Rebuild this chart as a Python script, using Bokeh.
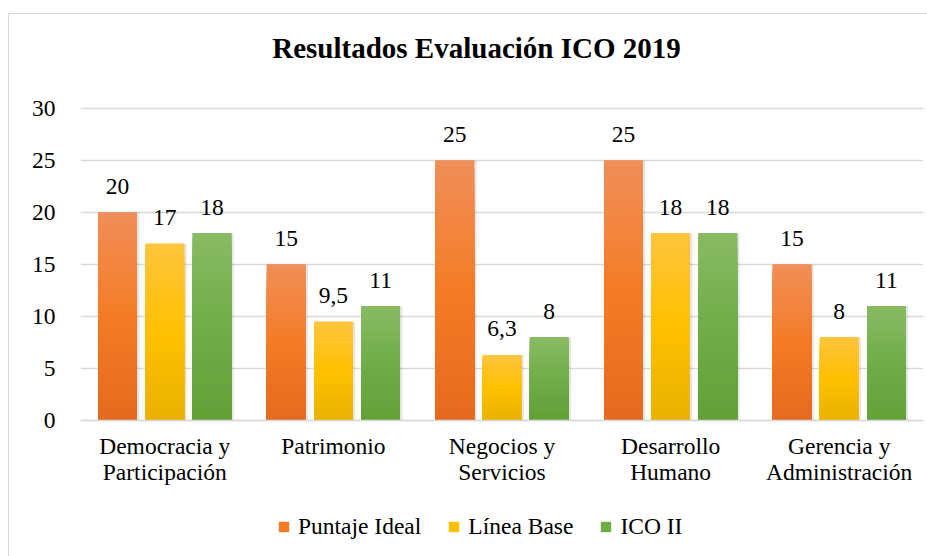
from bokeh.plotting import figure
from bokeh.models import (ColumnDataSource, FactorRange, Range1d, Legend, LegendItem,
                          FixedTicker, Label)
from bokeh.transform import dodge
from bokeh.embed import file_html
from bokeh.resources import INLINE
from bokeh.core.properties import value

# ---- data ----
categories = ["Democracia y\nParticipación", "Patrimonio", "Negocios y\nServicios",
              "Desarrollo\nHumano", "Gerencia y\nAdministración"]
series_names = ["Puntaje Ideal", "Línea Base", "ICO II"]
puntaje_ideal = [20, 15, 25, 25, 15]
linea_base = [17, 9.5, 6.3, 18, 8]
ico_ii = [18, 11, 8, 18, 11]
series_values = [puntaje_ideal, linea_base, ico_ii]
y_ticks = [0, 5, 10, 15, 20, 25, 30]
title_text = "Resultados Evaluación ICO 2019"

# ---- styles / layout ----
FONT = "Liberation Serif"
FS = "23.5px"
offsets = [-0.28, 0.0, 0.28]
bar_w = 0.23
PX_PER_UNIT = 10.4          # vertical scale of the value axis
SPACE_ABOVE = 94            # px between figure top and the 30 gridline
SPACE_BELOW = 137           # px between the 0 line and the figure bottom
grads = [
    [(240, 142, 88), (244, 124, 38), (228, 106, 30)],
    [(255, 197, 62), (255, 192, 0), (233, 178, 0)],
    [(136, 187, 100), (112, 173, 71), (98, 160, 56)],
]
mid_colors = ["#F47C26", "#FFC000", "#70AD47"]


def lerp(a, b, t):
    return tuple(int(round(a[i] + (b[i] - a[i]) * t)) for i in range(3))


def grad_color(stops, t):  # t=0 top, t=1 bottom
    if t <= 0.5:
        c = lerp(stops[0], stops[1], t / 0.5)
    else:
        c = lerp(stops[1], stops[2], (t - 0.5) / 0.5)
    return "#%02x%02x%02x" % c


ymax = max(y_ticks)
y_lo = -SPACE_BELOW / PX_PER_UNIT
y_hi = ymax + SPACE_ABOVE / PX_PER_UNIT
frame_h = int(round((y_hi - y_lo) * PX_PER_UNIT))

p = figure(x_range=FactorRange(*categories, range_padding=0), y_range=Range1d(y_lo, y_hi),
           frame_width=843, frame_height=frame_h, output_backend="svg", toolbar_location=None,
           min_border_left=71, min_border_right=5, min_border_top=0, min_border_bottom=0,
           margin=(13, 0, 0, 8))
p.styles = {"border-left": "1px solid #d9d9d9", "border-top": "1px solid #d9d9d9"}
p.outline_line_color = None

# axes
p.yaxis.ticker = FixedTicker(ticks=y_ticks)
p.yaxis.axis_line_color = None
p.yaxis.major_tick_line_color = None
p.yaxis.minor_tick_line_color = None
p.yaxis.major_label_text_font = FONT
p.yaxis.major_label_text_font_size = FS
p.yaxis.major_label_text_color = "#000000"
p.yaxis.major_label_standoff = 19

p.xaxis.fixed_location = 0
p.xaxis.axis_line_color = "#d9d9d9"
p.xaxis.axis_line_width = 1.5
p.xaxis.major_tick_line_color = None
p.xaxis.minor_tick_line_color = None
p.xaxis.major_label_text_font = FONT
p.xaxis.major_label_text_font_size = FS
p.xaxis.major_label_text_color = "#000000"
p.xaxis.major_label_text_line_height = 1.0
p.xaxis.major_label_standoff = 6

p.xgrid.grid_line_color = None
p.ygrid.grid_line_color = "#d9d9d9"
p.ygrid.grid_line_width = 1.5

N = 40
legend_items = []
for s, (name, vals) in enumerate(zip(series_names, series_values)):
    base_src = ColumnDataSource(dict(cat=categories, val=vals,
                                     lab=[("%g" % v).replace(".", ",") for v in vals]))
    # soft shadow
    p.vbar(x=dodge("cat", offsets[s] + 0.008, range=p.x_range), top="val", bottom=0,
           width=bar_w + 0.012, source=base_src, fill_color="#000000", fill_alpha=0.10,
           line_color=None)
    # solid base bar (used for the legend)
    r = p.vbar(x=dodge("cat", offsets[s], range=p.x_range), top="val", bottom=0,
               width=bar_w, source=base_src, fill_color=mid_colors[s], line_color=None)
    legend_items.append(LegendItem(label=name, renderers=[r]))
    # gradient overlay: nested rectangles from tallest to shortest
    cats, tops, cols = [], [], []
    for i in range(N):
        frac = (N - i) / N
        t = 1 - (N - i - 0.5) / N
        for c, v in zip(categories, vals):
            cats.append(c)
            tops.append(v * frac)
            cols.append(grad_color(grads[s], t))
    gsrc = ColumnDataSource(dict(cat=cats, top=tops, col=cols))
    p.vbar(x=dodge("cat", offsets[s], range=p.x_range), top="top", bottom=0,
           width=bar_w, source=gsrc, fill_color="col", line_color=None)
    # value labels
    p.text(x=dodge("cat", offsets[s], range=p.x_range), y="val", text="lab", source=base_src,
           text_font=value(FONT), text_font_size=FS, text_color="#000000",
           text_align="center", text_baseline="alphabetic", y_offset=-26)

# chart title
title = Label(x=0, y=0, x_units="screen", y_units="screen", x_offset=396, y_offset=frame_h - 33,
              text=title_text, text_font=FONT, text_font_size="29px",
              text_font_style="bold", text_color="#000000", text_align="center",
              text_baseline="alphabetic")
p.add_layout(title)

legend = Legend(items=legend_items, orientation="horizontal", location=(197, 17))
legend.label_text_font = FONT
legend.label_text_font_size = FS
legend.label_text_color = "#000000"
legend.glyph_width = 13
legend.glyph_height = 13
legend.label_standoff = 8
legend.spacing = 26
legend.border_line_color = None
legend.background_fill_alpha = 0
legend.margin = 0
legend.padding = 0
p.add_layout(legend)

open("out.html", "w").write(file_html(p, INLINE))
